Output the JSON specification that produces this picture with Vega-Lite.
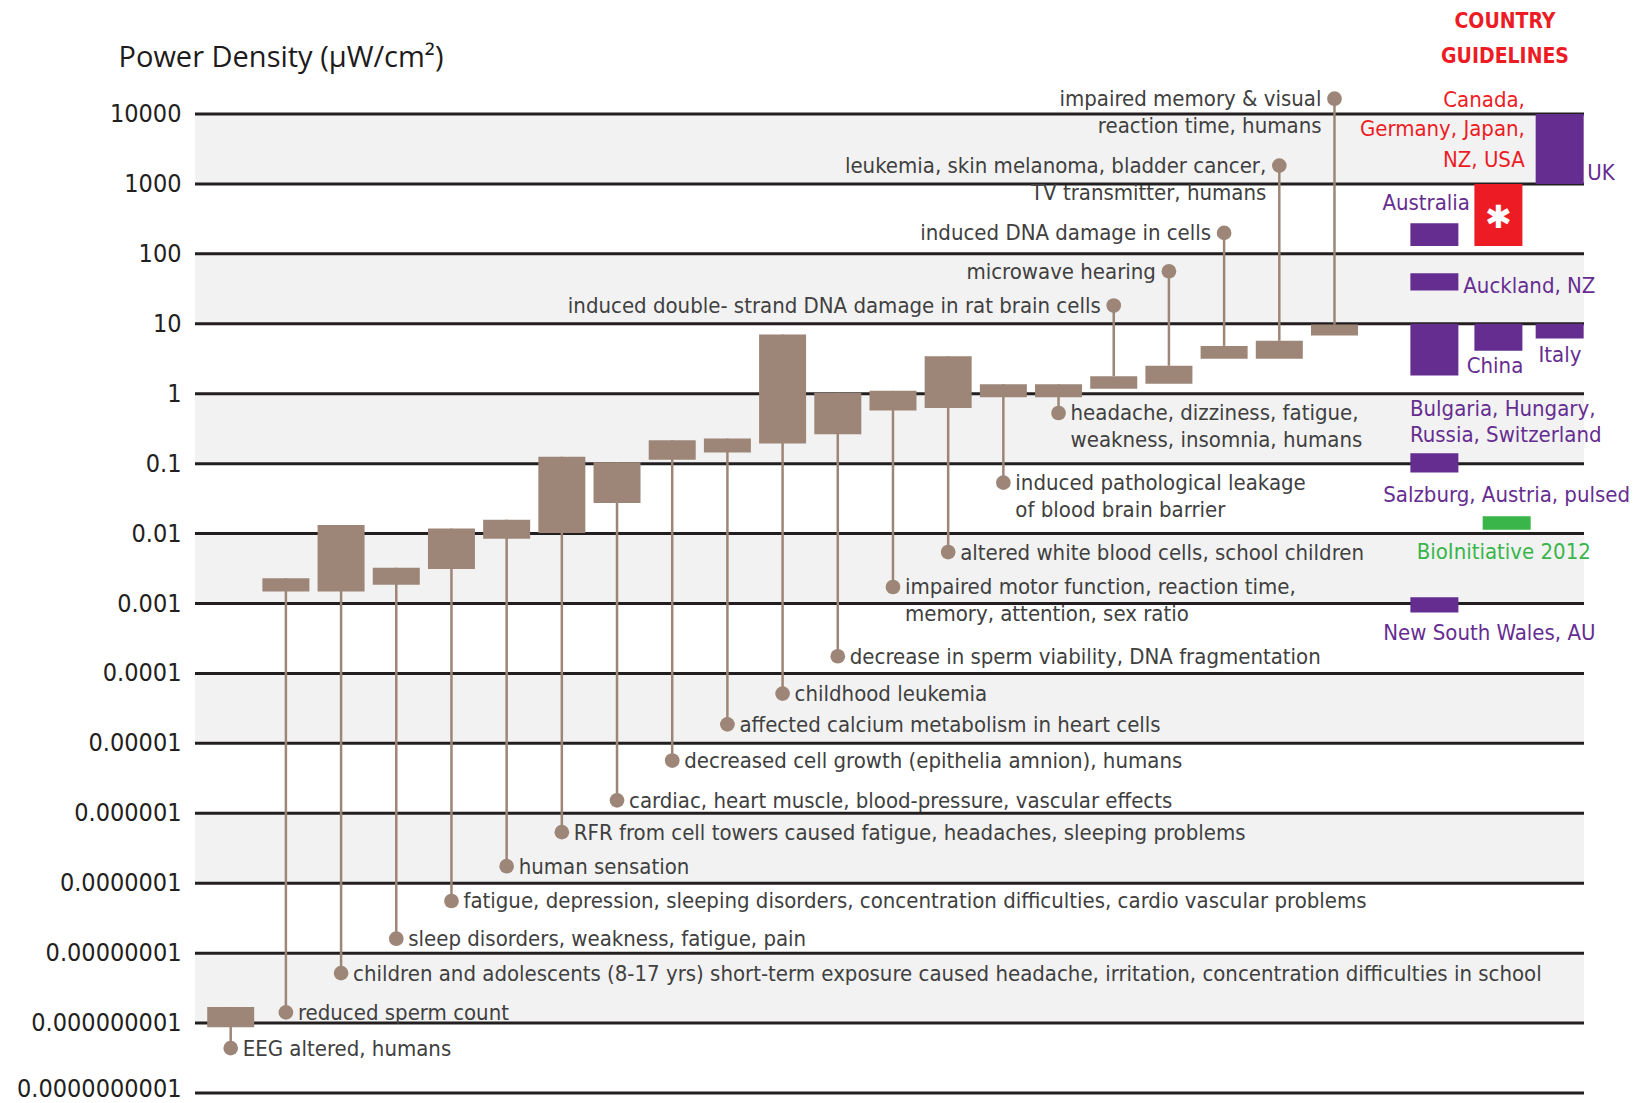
{
  "$schema": "https://vega.github.io/schema/vega-lite/v6.json",
  "width": 1389,
  "height": 979,
  "autosize": {"type": "none"},
  "padding": {"left": 195, "top": 114, "right": 58, "bottom": 10},
  "background": "white",
  "config": {"view": {"stroke": null}, "scale": {"continuousPadding": 0}},
  "datasets": {
    "decades": [
      {"v": 10000}, {"v": 1000}, {"v": 100}, {"v": 10}, {"v": 1},
      {"v": 0.1}, {"v": 0.01}, {"v": 0.001}, {"v": 0.0001}, {"v": 0.00001},
      {"v": 0.000001}, {"v": 0.0000001}, {"v": 0.00000001}, {"v": 0.000000001}, {"v": 0.0000000001}
    ],
    "bands": [
      {"lo": 1000, "hi": 10000},
      {"lo": 10, "hi": 100},
      {"lo": 0.1, "hi": 1},
      {"lo": 0.001, "hi": 0.01},
      {"lo": 0.00001, "hi": 0.0001},
      {"lo": 0.0000001, "hi": 0.000001},
      {"lo": 0.000000001, "hi": 0.00000001}
    ],
    "studies": [
      {"slot": 1, "lo": 8.75e-10, "hi": 1.70e-9, "dot": 4.39e-10, "side": "right", "label": "EEG altered, humans"},
      {"slot": 2, "lo": 0.001486, "hi": 0.002296, "dot": 1.42e-9, "side": "right", "label": "reduced sperm count"},
      {"slot": 3, "lo": 0.001486, "hi": 0.01324, "dot": 5.18e-9, "side": "right", "label": "children and adolescents (8-17 yrs) short-term exposure caused headache, irritation, concentration difficulties in school"},
      {"slot": 4, "lo": 0.001858, "hi": 0.003236, "dot": 1.61e-8, "side": "right", "label": "sleep disorders, weakness, fatigue, pain"},
      {"slot": 5, "lo": 0.003105, "hi": 0.01183, "dot": 5.57e-8, "side": "right", "label": "fatigue, depression, sleeping disorders, concentration difficulties, cardio vascular problems"},
      {"slot": 6, "lo": 0.00843, "hi": 0.01581, "dot": 1.75e-7, "side": "right", "label": "human sensation"},
      {"slot": 7, "lo": 0.01023, "hi": 0.1259, "dot": 5.37e-7, "side": "right", "label": "RFR from cell towers caused fatigue, headaches, sleeping problems"},
      {"slot": 8, "lo": 0.02735, "hi": 0.1045, "dot": 1.53e-6, "side": "right", "label": "cardiac, heart muscle, blood-pressure, vascular effects"},
      {"slot": 9, "lo": 0.1135, "hi": 0.2158, "dot": 5.68e-6, "side": "right", "label": "decreased cell growth (epithelia amnion), humans"},
      {"slot": 10, "lo": 0.1445, "hi": 0.2291, "dot": 1.87e-5, "side": "right", "label": "affected calcium metabolism in heart cells"},
      {"slot": 11, "lo": 0.1945, "hi": 7.015, "dot": 5.15e-5, "side": "right", "label": "childhood leukemia"},
      {"slot": 12, "lo": 0.263, "hi": 1.03, "dot": 1.76e-4, "side": "right", "label": "decrease in sperm viability, DNA fragmentation"},
      {"slot": 13, "lo": 0.575, "hi": 1.099, "dot": 0.001722, "side": "right", "label": "impaired motor function, reaction time,\nmemory, attention, sex ratio"},
      {"slot": 14, "lo": 0.624, "hi": 3.428, "dot": 0.005445, "side": "right", "label": "altered white blood cells, school children"},
      {"slot": 15, "lo": 0.889, "hi": 1.365, "dot": 0.05346, "side": "right", "label": "induced pathological leakage\nof blood brain barrier"},
      {"slot": 16, "lo": 0.889, "hi": 1.365, "dot": 0.53, "side": "right", "label": "headache, dizziness, fatigue,\nweakness, insomnia, humans"},
      {"slot": 17, "lo": 1.18, "hi": 1.782, "dot": 18.24, "side": "left", "label": "induced double- strand DNA damage in rat brain cells"},
      {"slot": 18, "lo": 1.39, "hi": 2.512, "dot": 56.36, "side": "left", "label": "microwave hearing"},
      {"slot": 19, "lo": 3.162, "hi": 4.83, "dot": 199.5, "side": "left", "label": "induced DNA damage in cells"},
      {"slot": 20, "lo": 3.162, "hi": 5.715, "dot": 1828, "side": "left", "label": "leukemia, skin melanoma, bladder cancer,\nTV transmitter, humans"},
      {"slot": 21, "lo": 6.79, "hi": 9.77, "dot": 16560, "side": "left", "label": "impaired memory & visual\nreaction time, humans"}
    ],
    "guidelines": [
      {"slot": 22.81, "lo": 130, "hi": 275, "tier": "national"},
      {"slot": 22.81, "lo": 29.9, "hi": 52.8, "tier": "national"},
      {"slot": 22.81, "lo": 1.82, "hi": 10, "tier": "national"},
      {"slot": 22.81, "lo": 0.0746, "hi": 0.141, "tier": "national"},
      {"slot": 22.81, "lo": 0.000745, "hi": 0.001227, "tier": "national"},
      {"slot": 23.97, "lo": 130, "hi": 1000, "tier": "high"},
      {"slot": 23.97, "lo": 4.13, "hi": 10, "tier": "national"},
      {"slot": 25.08, "lo": 1000, "hi": 10000, "tier": "national"},
      {"slot": 25.08, "lo": 6.14, "hi": 10, "tier": "national"},
      {"slot": 24.12, "lo": 0.01132, "hi": 0.01766, "tier": "bio"}
    ],
    "notes": [
      {"slot": 24.09, "v": 168100, "side": "heading", "tier": "high", "text": "COUNTRY"},
      {"slot": 24.09, "v": 53100, "side": "heading", "tier": "high", "text": "GUIDELINES"},
      {"slot": 24.45, "v": 12710, "side": "right", "tier": "high", "text": "Canada,"},
      {"slot": 24.45, "v": 4853, "side": "right", "tier": "high", "text": "Germany, Japan,"},
      {"slot": 24.45, "v": 1756, "side": "right", "tier": "high", "text": "NZ, USA"},
      {"slot": 25.58, "v": 1135, "side": "left", "tier": "national", "text": "UK"},
      {"slot": 23.455, "v": 421.7, "side": "right", "tier": "national", "text": "Australia"},
      {"slot": 23.334, "v": 27.35, "side": "left", "tier": "national", "text": "Auckland, NZ"},
      {"slot": 23.908, "v": 2.0, "side": "center", "tier": "national", "text": "China"},
      {"slot": 25.086, "v": 2.877, "side": "center", "tier": "national", "text": "Italy"},
      {"slot": 22.368, "v": 0.4842, "side": "left", "tier": "national", "text": "Bulgaria, Hungary,"},
      {"slot": 22.368, "v": 0.2029, "side": "left", "tier": "national", "text": "Russia, Switzerland"},
      {"slot": 21.884, "v": 0.02825, "side": "left", "tier": "national", "text": "Salzburg, Austria, pulsed"},
      {"slot": 24.067, "v": 0.004276, "side": "center", "tier": "bio", "text": "BioInitiative 2012"},
      {"slot": 21.884, "v": 0.0002985, "side": "left", "tier": "national", "text": "New South Wales, AU"}
    ]
  },
  "layer": [
    {
      "data": {"name": "bands"},
      "mark": {"type": "rect", "color": "#f2f2f2"},
      "encoding": {
        "y": {
          "field": "lo", "type": "quantitative",
          "scale": {"type": "log", "domain": [1e-10, 10000], "nice": false, "padding": 0},
          "axis": {
            "values": [10000, 1000, 100, 10, 1, 0.1, 0.01, 0.001, 0.0001, 0.00001, 0.000001, 0.0000001, 0.00000001, 0.000000001, 0.0000000001],
            "format": ".10~f",
            "grid": false, "ticks": false, "domain": false,
            "labelFont": "DejaVu Sans Condensed, Roboto, sans-serif", "labelFontSize": 25, "labelColor": "#231f20",
            "labelPadding": 14,
            "labelOffset": {"condition": {"test": "datum.value < 5e-10", "value": -5}, "value": -0.5},
            "labelOverlap": false, "labelBound": false, "labelFlush": false,
            "title": "Power Density (µW/cm²)",
            "titleAngle": 0, "titleAlign": "left", "titleBaseline": "alphabetic",
            "titleX": -77, "titleY": -47.5,
            "titleFont": "Open Sans", "titleFontSize": 29, "titleFontWeight": "normal", "titleColor": "#1e1b1c"
          }
        },
        "y2": {"field": "hi"}
      }
    },
    {
      "data": {"name": "decades"},
      "mark": {"type": "rule", "color": "#231f20", "strokeWidth": 3},
      "encoding": {
        "y": {"field": "v", "type": "quantitative", "scale": {"type": "log", "domain": [1e-10, 10000], "nice": false, "padding": 0}}
      }
    },
    {
      "data": {"name": "studies"},
      "mark": {"type": "rule", "color": "#9d8677", "strokeWidth": 2.5},
      "encoding": {
        "x": {"field": "slot", "type": "quantitative", "scale": {"domain": [0.3531, 25.521], "nice": false, "zero": false, "padding": 0}, "axis": null},
        "y": {"field": "dot", "type": "quantitative", "scale": {"type": "log", "domain": [1e-10, 10000], "nice": false, "padding": 0}},
        "y2": {"field": "hi"}
      }
    },
    {
      "data": {"name": "studies"},
      "mark": {"type": "bar", "color": "#9d8677", "width": 47, "orient": "vertical"},
      "encoding": {
        "x": {"field": "slot", "type": "quantitative", "scale": {"domain": [0.3531, 25.521], "nice": false, "zero": false, "padding": 0}, "axis": null},
        "y": {"field": "lo", "type": "quantitative", "scale": {"type": "log", "domain": [1e-10, 10000], "nice": false, "padding": 0}},
        "y2": {"field": "hi"}
      }
    },
    {
      "data": {"name": "studies"},
      "mark": {"type": "circle", "color": "#9d8677", "size": 216, "opacity": 1},
      "encoding": {
        "x": {"field": "slot", "type": "quantitative", "scale": {"domain": [0.3531, 25.521], "nice": false, "zero": false, "padding": 0}, "axis": null},
        "y": {"field": "dot", "type": "quantitative", "scale": {"type": "log", "domain": [1e-10, 10000], "nice": false, "padding": 0}}
      }
    },
    {
      "data": {"name": "studies"},
      "transform": [{"filter": "datum.side === 'right'"}],
      "mark": {"type": "text", "align": "left", "baseline": "top", "dx": 12, "dy": -9.5, "font": "DejaVu Sans Condensed, Roboto, sans-serif", "fontSize": 22, "lineHeight": 27, "lineBreak": "\n", "color": "#404040"},
      "encoding": {
        "x": {"field": "slot", "type": "quantitative", "scale": {"domain": [0.3531, 25.521], "nice": false, "zero": false, "padding": 0}, "axis": null},
        "y": {"field": "dot", "type": "quantitative", "scale": {"type": "log", "domain": [1e-10, 10000], "nice": false, "padding": 0}},
        "text": {"field": "label"}
      }
    },
    {
      "data": {"name": "studies"},
      "transform": [{"filter": "datum.side === 'left'"}],
      "mark": {"type": "text", "align": "right", "baseline": "top", "dx": -13, "dy": -9.5, "font": "DejaVu Sans Condensed, Roboto, sans-serif", "fontSize": 22, "lineHeight": 27, "lineBreak": "\n", "color": "#404040"},
      "encoding": {
        "x": {"field": "slot", "type": "quantitative", "scale": {"domain": [0.3531, 25.521], "nice": false, "zero": false, "padding": 0}, "axis": null},
        "y": {"field": "dot", "type": "quantitative", "scale": {"type": "log", "domain": [1e-10, 10000], "nice": false, "padding": 0}},
        "text": {"field": "label"}
      }
    },
    {
      "data": {"name": "guidelines"},
      "mark": {"type": "bar", "width": 48, "orient": "vertical"},
      "encoding": {
        "x": {"field": "slot", "type": "quantitative", "scale": {"domain": [0.3531, 25.521], "nice": false, "zero": false, "padding": 0}, "axis": null},
        "y": {"field": "lo", "type": "quantitative", "scale": {"type": "log", "domain": [1e-10, 10000], "nice": false, "padding": 0}},
        "y2": {"field": "hi"},
        "color": {"field": "tier", "type": "nominal", "scale": {"domain": ["high", "national", "bio"], "range": ["#ed1c24", "#662d91", "#39b54a"]}, "legend": null}
      }
    },
    {
      "data": {"name": "guidelines"},
      "transform": [{"filter": "datum.tier === 'high'"}],
      "mark": {"type": "text", "align": "center", "baseline": "middle", "dy": -28, "font": "DejaVu Sans", "fontSize": 32, "fontWeight": "bold", "color": "white"},
      "encoding": {
        "x": {"field": "slot", "type": "quantitative", "scale": {"domain": [0.3531, 25.521], "nice": false, "zero": false, "padding": 0}, "axis": null},
        "y": {"field": "lo", "type": "quantitative", "scale": {"type": "log", "domain": [1e-10, 10000], "nice": false, "padding": 0}},
        "text": {"value": "✱"}
      }
    },
    {
      "data": {"name": "notes"},
      "transform": [{"filter": "datum.side === 'heading'"}],
      "mark": {"type": "text", "align": "center", "baseline": "alphabetic", "font": "DejaVu Sans Condensed, Roboto, sans-serif", "fontSize": 21, "fontWeight": "bold"},
      "encoding": {
        "x": {"field": "slot", "type": "quantitative", "scale": {"domain": [0.3531, 25.521], "nice": false, "zero": false, "padding": 0}, "axis": null},
        "y": {"field": "v", "type": "quantitative", "scale": {"type": "log", "domain": [1e-10, 10000], "nice": false, "padding": 0}},
        "text": {"field": "text"},
        "color": {"field": "tier", "type": "nominal", "scale": {"domain": ["high", "national", "bio"], "range": ["#ed1c24", "#662d91", "#39b54a"]}, "legend": null}
      }
    },
    {
      "data": {"name": "notes"},
      "transform": [{"filter": "datum.side === 'left'"}],
      "mark": {"type": "text", "align": "left", "baseline": "alphabetic", "font": "DejaVu Sans Condensed, Roboto, sans-serif", "fontSize": 22},
      "encoding": {
        "x": {"field": "slot", "type": "quantitative", "scale": {"domain": [0.3531, 25.521], "nice": false, "zero": false, "padding": 0}, "axis": null},
        "y": {"field": "v", "type": "quantitative", "scale": {"type": "log", "domain": [1e-10, 10000], "nice": false, "padding": 0}},
        "text": {"field": "text"},
        "color": {"field": "tier", "type": "nominal", "scale": {"domain": ["high", "national", "bio"], "range": ["#ed1c24", "#662d91", "#39b54a"]}, "legend": null}
      }
    },
    {
      "data": {"name": "notes"},
      "transform": [{"filter": "datum.side === 'right'"}],
      "mark": {"type": "text", "align": "right", "baseline": "alphabetic", "font": "DejaVu Sans Condensed, Roboto, sans-serif", "fontSize": 22},
      "encoding": {
        "x": {"field": "slot", "type": "quantitative", "scale": {"domain": [0.3531, 25.521], "nice": false, "zero": false, "padding": 0}, "axis": null},
        "y": {"field": "v", "type": "quantitative", "scale": {"type": "log", "domain": [1e-10, 10000], "nice": false, "padding": 0}},
        "text": {"field": "text"},
        "color": {"field": "tier", "type": "nominal", "scale": {"domain": ["high", "national", "bio"], "range": ["#ed1c24", "#662d91", "#39b54a"]}, "legend": null}
      }
    },
    {
      "data": {"name": "notes"},
      "transform": [{"filter": "datum.side === 'center'"}],
      "mark": {"type": "text", "align": "center", "baseline": "alphabetic", "font": "DejaVu Sans Condensed, Roboto, sans-serif", "fontSize": 22},
      "encoding": {
        "x": {"field": "slot", "type": "quantitative", "scale": {"domain": [0.3531, 25.521], "nice": false, "zero": false, "padding": 0}, "axis": null},
        "y": {"field": "v", "type": "quantitative", "scale": {"type": "log", "domain": [1e-10, 10000], "nice": false, "padding": 0}},
        "text": {"field": "text"},
        "color": {"field": "tier", "type": "nominal", "scale": {"domain": ["high", "national", "bio"], "range": ["#ed1c24", "#662d91", "#39b54a"]}, "legend": null}
      }
    }
  ]
}
